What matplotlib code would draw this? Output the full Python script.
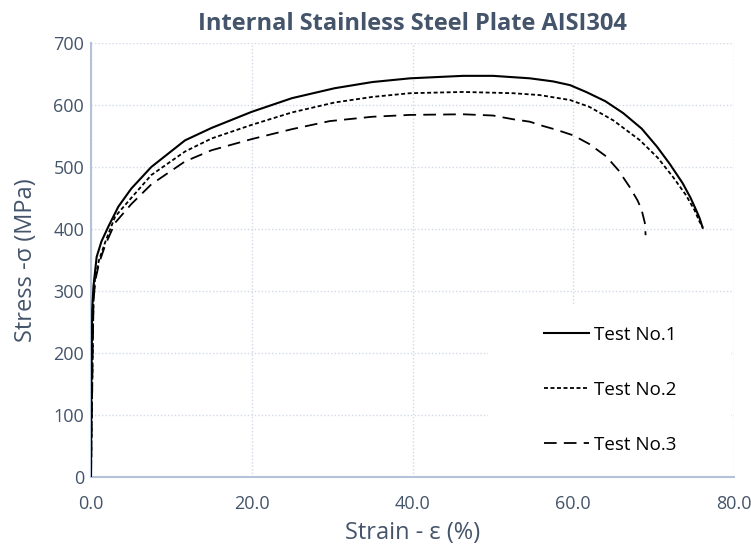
import matplotlib.pyplot as plt
from matplotlib.patches import Rectangle

# Test No.1 (solid)
strain1 = [0, 0.05, 0.15, 0.3, 0.7, 1.3, 2.2, 3.4, 5.0, 7.5, 11.7, 15, 20, 25, 30.3, 35,
           39.7, 46.3, 50, 54.6, 57.5, 59.6, 61.6, 64, 66.2, 68.5, 70.4, 72, 73.6, 74.6,
           75.3, 75.7, 75.9, 76.1]
stress1 = [0, 150, 270, 307, 355, 380, 405, 436, 465, 500, 543, 563, 589, 611, 627, 637,
           643, 647, 647, 643, 638, 632, 621, 606, 587, 562, 533, 505, 474, 450,
           430, 418, 410, 402]

# Test No.2 (short dash)
strain2 = [0, 0.1, 0.3, 0.5, 1.0, 1.8, 3.0, 5.0, 7.5, 11.7, 15, 20, 25, 30.3, 35, 39.7,
           46.3, 52.5, 55.8, 59.6, 62, 65, 68.3, 70.5, 72.4, 74, 75.1, 75.7, 76.1]
stress2 = [0, 100, 280, 320, 350, 380, 420, 450, 487, 525, 546, 568, 588, 604, 613, 619,
           621, 619, 616, 608, 597, 575, 543, 515, 484, 455, 430, 412, 403]

# Test No.3 (long dash)
strain3 = [0, 0.1, 0.3, 0.5, 1.0, 1.8, 3.0, 5.0, 7.5, 11.7, 15, 20, 25, 29.7, 35, 39.7,
           46.3, 50, 52.5, 54.6, 56, 57.9, 60, 62, 64.1, 65.6, 67.0, 68.0, 68.5, 68.9, 69.0]
stress3 = [0, 100, 280, 315, 345, 375, 410, 440, 472, 509, 527, 545, 561, 574, 581, 584,
           585, 583, 577, 573, 567, 560, 551, 537, 517, 495, 468, 446, 431, 410, 390]

labels = ["Test No.1", "Test No.2", "Test No.3"]
xticks = [0, 20, 40, 60, 80]
yticks = [0, 100, 200, 300, 400, 500, 600, 700]

txt = "#44546A"
plt.rcParams['font.family'] = ['Open Sans', 'DejaVu Sans']

fig = plt.figure(figsize=(7.51, 5.56), dpi=100)
ax = fig.add_axes([0.1212, 0.1421, 0.8562, 0.7806])

ax.plot(strain1, stress1, color="black", lw=1.5, ls="-", label=labels[0], zorder=3)
ax.plot(strain2, stress2, color="black", lw=1.3, ls=(0, (2.2, 1.4)), label=labels[1], zorder=3)
ax.plot(strain3, stress3, color="black", lw=1.3, ls=(0, (7, 4)), label=labels[2], zorder=3)

ax.set_xlim(0, 80)
ax.set_ylim(0, 700)
ax.set_xticks(xticks)
ax.set_xticklabels([f"{v:.1f}" for v in xticks])
ax.set_yticks(yticks)

ax.set_axisbelow(True)
ax.grid(True, color="#D3DAE6", ls=(0, (1, 1.5)), lw=1.0)
ax.tick_params(length=0, labelsize=13, colors=txt)
ax.tick_params(axis="x", pad=13)
ax.tick_params(axis="y", pad=5)
for s in ["top", "right"]:
    ax.spines[s].set_visible(False)
for s in ["left", "bottom"]:
    ax.spines[s].set_color("#B4C2D9")
    ax.spines[s].set_linewidth(1.5)

# white box behind the legend hides the grid there
ax.add_patch(Rectangle((0.617, 0.005), 0.378, 0.391, transform=ax.transAxes,
                       facecolor="white", edgecolor="none", zorder=1))

ax.legend(loc="center left", bbox_to_anchor=(0.705, 0.201), frameon=False,
          fontsize=13.5, handlelength=2.4, handletextpad=0.25, labelspacing=1.98,
          borderpad=0, borderaxespad=0, labelcolor="black")

ax.set_title("Internal Stainless Steel Plate AISI304", fontsize=17, fontweight="bold",
             color=txt, pad=9)
ax.set_xlabel("Strain - ε (%)", fontsize=17, color=txt, labelpad=6)
ax.set_ylabel("Stress -σ (MPa)", fontsize=17, color=txt, labelpad=11)

fig.savefig("out.png", dpi=100)
